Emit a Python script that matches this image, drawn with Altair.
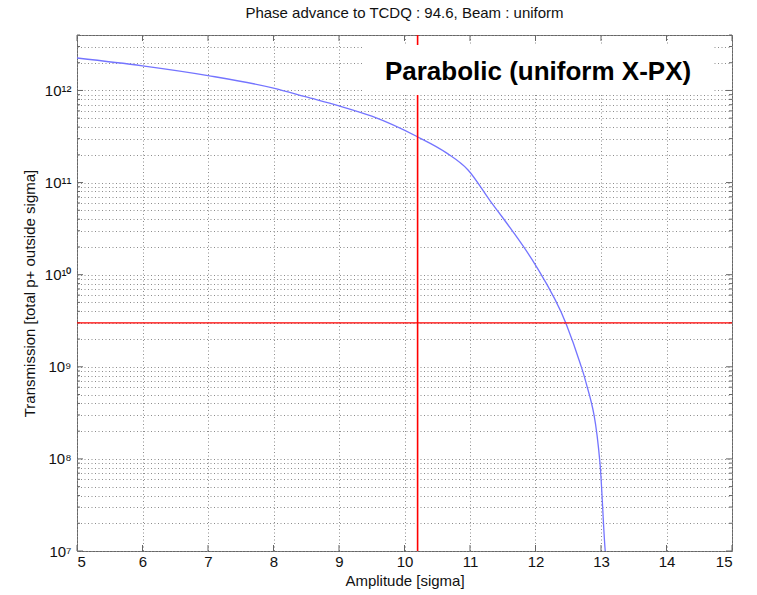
import altair as alt
import pandas as pd

# ---- data ----
amplitude = [5.0, 6.0, 7.0, 8.0, 8.5, 9.0, 9.5, 10.19, 10.64, 10.97, 11.31,
             11.5, 11.66, 12.0, 12.47, 12.68, 12.76, 12.985, 13.06, 13.09]
transmission = [2.25e12, 1.85e12, 1.45e12, 1.06e12, 8.5e11, 6.8e11, 5.25e11,
                3.16e11, 2.1e11, 1.37e11, 6.3e10, 4.15e10, 2.9e10, 1.27e10, 2.9e9,
                1.1e9, 7.2e8, 8.9e7, 1.1e7, 6e6]

cut_amplitude = [10.2]
cut_transmission = [3e9]

x_ticks = [5, 6, 7, 8, 9, 10, 11, 12, 13, 14, 15]
y_major = [10**7, 10**8, 10**9, 10**10, 10**11, 10**12]
y_major_labels = ["10⁷", "10⁸", "10⁹", "10¹⁰", "10¹¹", "10¹²"]
y_top = 4 * 10**12
y_all = [m * 10**d for d in range(7, 13) for m in range(1, 10) if m * 10**d <= y_top]
y_minor = [v for v in y_all if v not in y_major]

title_text = "Phase advance to TCDQ : 94.6, Beam : uniform"
x_title = "Amplitude [sigma]"
y_title = "Transmission [total p+ outside sigma]"
note_text = "Parabolic (uniform X-PX)"

W, H = 655, 516
FONT = "Liberation Sans"
GRID = "#8c8c8c"
FRAME = "#666666"

curve_df = pd.DataFrame({"a": amplitude, "t": transmission})
vcut_df = pd.DataFrame({"cx": cut_amplitude})
hcut_df = pd.DataFrame({"ct": cut_transmission})
xt_df = pd.DataFrame({"tx": x_ticks})
ymaj_df = pd.DataFrame({"ty": y_major})
ymin_df = pd.DataFrame({"ty": y_minor})

label_expr = " : ".join(
    f"datum.value == {v} ? '{l}'" for v, l in zip(y_major, y_major_labels)
) + " : ''"

xscale = alt.Scale(domain=[5, 15], nice=False, zero=False)
yscale = alt.Scale(type="log", domain=[1e7, y_top], nice=False)

xaxis = alt.Axis(values=x_ticks, format="d", grid=True, gridColor=GRID,
                 gridDash=[1, 2.5], gridOpacity=1, ticks=False, domain=False,
                 labelFont=FONT, labelFontSize=15, labelColor="#111",
                 labelPadding=3, titleFont=FONT, titleFontSize=15,
                 titleFontWeight="normal", titleColor="#111", titlePadding=4)
yaxis = alt.Axis(values=y_all, labelExpr=label_expr, grid=True, gridColor=GRID,
                 gridDash=[1, 2.5], gridOpacity=1, ticks=False, domain=False,
                 labelFont=FONT, labelFontSize=15, labelColor="#111",
                 labelPadding=6, labelOverlap=False, labelBound=False,
                 titleFont=FONT, titleFontSize=15, titleFontWeight="normal",
                 titleColor="#111", titlePadding=7)

curve = alt.Chart(curve_df).mark_line(
    color="#7474ff", strokeWidth=1.3, clip=True, interpolate="monotone"
).encode(
    x=alt.X("a:Q", scale=xscale, axis=xaxis, title=x_title),
    y=alt.Y("t:Q", scale=yscale, axis=yaxis, title=y_title),
)

vcut = alt.Chart(vcut_df).mark_rule(color="#ff0000", strokeWidth=1.6, opacity=1).encode(
    x=alt.X("cx:Q", scale=xscale))
hcut = alt.Chart(hcut_df).mark_rule(color="#ff0000", strokeWidth=1.2, opacity=1).encode(
    y=alt.Y("ct:Q", scale=yscale))

tick_style = dict(color=FRAME, strokeWidth=1)
xt_bot = alt.Chart(xt_df).mark_rule(**tick_style).encode(
    x=alt.X("tx:Q", scale=xscale), y=alt.value(H), y2=alt.value(H - 6))
xt_top = alt.Chart(xt_df).mark_rule(**tick_style).encode(
    x=alt.X("tx:Q", scale=xscale), y=alt.value(0), y2=alt.value(6))
ymaj_l = alt.Chart(ymaj_df).mark_rule(**tick_style).encode(
    y=alt.Y("ty:Q", scale=yscale), x=alt.value(0), x2=alt.value(6))
ymaj_r = alt.Chart(ymaj_df).mark_rule(**tick_style).encode(
    y=alt.Y("ty:Q", scale=yscale), x=alt.value(W), x2=alt.value(W - 6))
ymin_l = alt.Chart(ymin_df).mark_rule(**tick_style).encode(
    y=alt.Y("ty:Q", scale=yscale), x=alt.value(0), x2=alt.value(3))
ymin_r = alt.Chart(ymin_df).mark_rule(**tick_style).encode(
    y=alt.Y("ty:Q", scale=yscale), x=alt.value(W), x2=alt.value(W - 3))

box = alt.Chart(pd.DataFrame({"k": [0]})).mark_rect(color="white").encode(
    x=alt.value(286), x2=alt.value(636), y=alt.value(10), y2=alt.value(60))
note = alt.Chart(pd.DataFrame({"k": [note_text]})).mark_text(
    font=FONT, fontSize=26, fontWeight="bold", color="#000", align="center",
    baseline="alphabetic").encode(
    text="k:N", x=alt.value(461), y=alt.value(45))

chart = alt.layer(
    curve, xt_bot, xt_top, ymaj_l, ymaj_r, ymin_l, ymin_r, vcut, hcut, box, note
).properties(
    width=W, height=H,
    title=alt.TitleParams(title_text, font=FONT, fontSize=15, fontWeight="normal",
                          color="#111", anchor="middle", offset=7),
    autosize=alt.AutoSizeParams(type="none"),
    padding={"left": 77, "top": 35, "right": 25, "bottom": 44},
    background="white",
).configure_view(stroke=FRAME, strokeWidth=1)

chart.save("out.html", embed_options={"renderer": "svg", "actions": False})
